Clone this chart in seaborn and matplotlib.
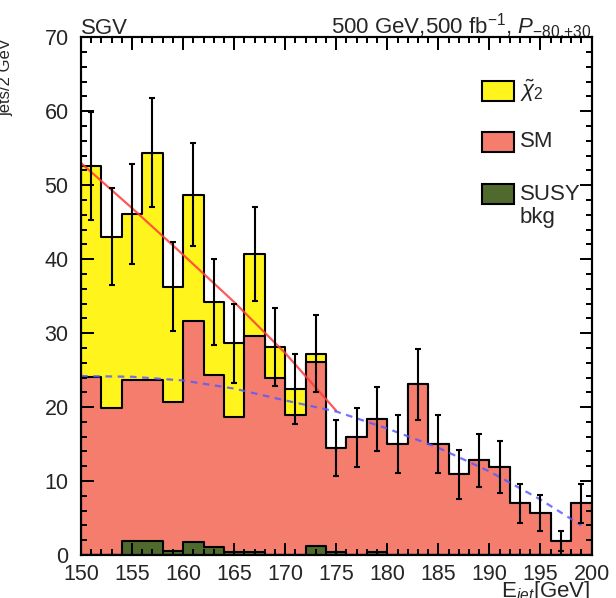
import numpy as np
import pandas as pd
import matplotlib
matplotlib.use("Agg")
import matplotlib.pyplot as plt
from matplotlib.patches import Rectangle
from matplotlib.ticker import MultipleLocator
import seaborn as sns

# Jet energy spectrum, 2 GeV bins from 150 to 200 GeV
bin_edges = list(range(150, 202, 2))
susy_bkg = [0.0, 0.0, 1.9, 1.9, 0.5, 1.7, 1.1, 0.4, 0.4, 0.0, 0.0, 1.2, 0.4,
            0.0, 0.4, 0.0, 0.0, 0.0, 0.0, 0.0, 0.0, 0.0, 0.0, 0.0, 0.0]
sm = [24.1, 19.9, 21.8, 21.8, 20.2, 30.0, 23.2, 18.2, 29.2, 24.0, 18.9, 24.9, 14.1,
      15.9, 18.0, 15.0, 23.1, 15.0, 10.9, 12.8, 11.9, 7.0, 5.7, 1.9, 7.0]
chi2 = [28.5, 23.1, 22.4, 30.7, 15.6, 17.0, 9.9, 10.0, 11.1, 4.1, 3.6, 1.1, 0.0,
        0.0, 0.0, 0.0, 0.0, 0.0, 0.0, 0.0, 0.0, 0.0, 0.0, 0.0, 0.0]

# Fitted shapes: SM background and signal edge
sm_fit_x = [150, 155, 160, 165, 170, 175, 180, 185, 190, 195, 199]
sm_fit_y = [24.2, 24.1, 23.6, 22.5, 20.9, 19.4, 17.1, 14.5, 11.3, 7.5, 4.0]
sig_fit_x = [150, 155, 160, 165, 170, 175]
sig_fit_y = [53.0, 46.9, 40.6, 34.2, 27.3, 19.5]

legend_labels = [r"$\tilde{\chi}_2$", "SM", "SUSY\nbkg"]

YELLOW = "#fff51c"
SALMON = "#f47d6e"
OLIVE = "#4f6a2c"

sns.set_theme(style="ticks")
plt.rcParams.update({
    "font.family": ["Liberation Sans", "DejaVu Sans"],
    "mathtext.fontset": "custom",
    "mathtext.rm": "Liberation Sans",
    "mathtext.it": "Liberation Sans:italic",
    "mathtext.bf": "Liberation Sans:bold",
    "axes.axisbelow": False,
})

W, H = 616, 598
fig = plt.figure(figsize=(W / 100, H / 100), dpi=100)
fig.patch.set_facecolor("white")
L, R, T, B = 81, 591.5, 37.3, 555
rect = [L / W, 1 - B / H, (R - L) / W, (B - T) / H]
ax = fig.add_axes(rect)

edges = np.array(bin_edges, dtype=float)
centers = (edges[:-1] + edges[1:]) / 2
susy_arr = np.array(susy_bkg)
sm_arr = np.array(sm)
chi2_arr = np.array(chi2)
total = susy_arr + sm_arr + chi2_arr

df = pd.DataFrame({
    "E": centers,
    "total": total,
    "sm_stack": susy_arr + sm_arr,
    "susy": susy_arr,
})

# Stack drawn from the top layer down so each layer covers the one before
for col, colour in [("total", YELLOW), ("sm_stack", SALMON), ("susy", OLIVE)]:
    sns.histplot(data=df, x="E", weights=col, bins=bin_edges, element="step",
                 fill=True, color=colour, edgecolor="black", linewidth=1.5,
                 alpha=1, ax=ax)

sns.lineplot(x=sig_fit_x, y=sig_fit_y, color="#ff3b3b", linewidth=1.6,
             alpha=0.85, ax=ax)
sns.lineplot(x=sm_fit_x, y=sm_fit_y, color="#5a5aff", linewidth=1.6,
             alpha=0.85, ax=ax)
ax.lines[-1].set_dashes([3, 2.5])

ax.errorbar(centers, total, yerr=np.sqrt(total), fmt="none", ecolor="black",
            elinewidth=1.5, capsize=2.5, capthick=1.5, zorder=5)

ax.set_xlim(150, 200)
ax.set_ylim(0, 70)
ax.set_xlabel("")
ax.set_ylabel("")


def style_axis(a, labels):
    a.xaxis.set_major_locator(MultipleLocator(5))
    a.xaxis.set_minor_locator(MultipleLocator(1))
    a.yaxis.set_major_locator(MultipleLocator(10))
    a.yaxis.set_minor_locator(MultipleLocator(2))
    a.tick_params(which="both", direction="in", top=True, right=True,
                  bottom=True, left=True, color="black", width=1.3,
                  labelbottom=labels, labelleft=labels)
    a.tick_params(which="major", length=9, labelsize=15.5, pad=6.5)
    a.tick_params(axis="y", which="major", pad=9)
    a.tick_params(which="minor", length=4.5)
    for s in a.spines.values():
        s.set_color("black")
        s.set_linewidth(1.5)


style_axis(ax, True)

# Transparent frame on top carrying the inward tick marks on all four sides
frame = fig.add_axes(rect, facecolor="none", zorder=10)
frame.set_xlim(ax.get_xlim())
frame.set_ylim(ax.get_ylim())
style_axis(frame, False)


def fx(px):
    return px / W


def fy(py):
    return 1 - py / H


fig.text(fx(81), fy(33.5), "SGV", ha="left", va="baseline", fontsize=16)
fig.text(fx(591), fy(33.5),
         r"500 GeV,500 fb$^{-1}$, $\mathit{P}_{\mathit{{-}80{,}{+}30}}$",
         ha="right", va="baseline", fontsize=16)
fig.text(fx(590), fy(580), r"E$_{jet}$[GeV]", ha="right", va="top", fontsize=16)
fig.text(fx(13), fy(38), "jets/2 GeV", rotation=90, ha="right", va="top",
         fontsize=12)

# Legend boxes with labels
legend_rows = [(legend_labels[0], YELLOW, 80.7), (legend_labels[1], SALMON, 131.7),
               (legend_labels[2], OLIVE, 184)]
for label, colour, top in legend_rows:
    fig.patches.append(Rectangle((fx(482), fy(top + 20)), 32 / W, 20 / H,
                                 transform=fig.transFigure, facecolor=colour,
                                 edgecolor="black", linewidth=1.5))
    lines = label.split("\n")
    for i, line in enumerate(lines):
        fig.text(fx(520), fy(top + 10 + 23 * i), line, ha="left", va="center",
                 fontsize=16)

fig.savefig("out.png", dpi=100)
